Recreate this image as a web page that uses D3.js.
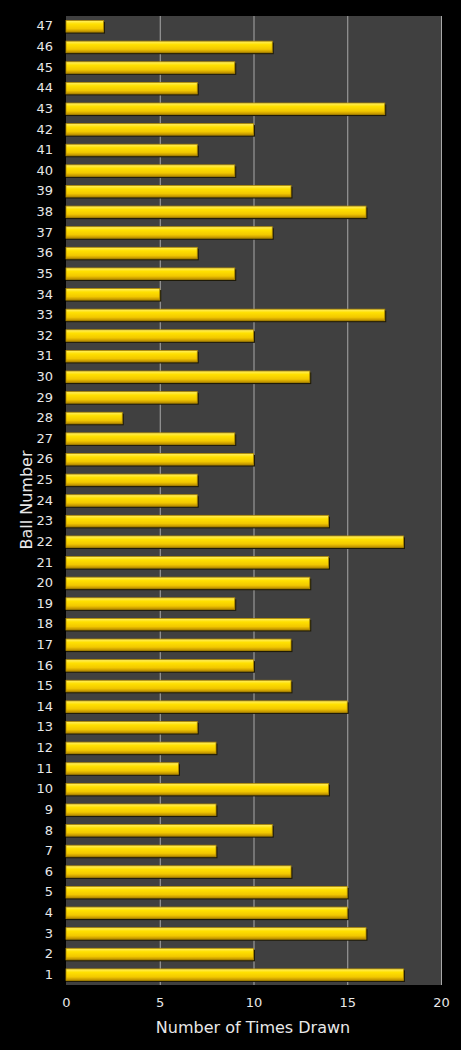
<!DOCTYPE html>
<html>
<head>
<meta charset="utf-8">
<script src="https://cdn.jsdelivr.net/npm/d3@7"></script>
<style>
    body { margin: 0; background: #000; }
    .tick text { fill: #e8e8e8; font-family: "DejaVu Sans", Verdana, sans-serif; font-size: 13px; }
    .axis-label { fill: #e8e8e8; font-family: "DejaVu Sans", Verdana, sans-serif; font-size: 16px; }
</style>
</head>
<body>
<div id="chart"></div>
<script>
const width = 461;
const height = 1050;

const margin = {
    top: 16,
    right: 20,
    bottom: 65,
    left: 66
};

// ball numbers 1..47 and how often each was drawn
const balls = [
    1, 2, 3, 4, 5, 6, 7, 8, 9, 10,
    11, 12, 13, 14, 15, 16, 17, 18, 19, 20,
    21, 22, 23, 24, 25, 26, 27, 28, 29, 30,
    31, 32, 33, 34, 35, 36, 37, 38, 39, 40,
    41, 42, 43, 44, 45, 46, 47
];
const timesDrawn = [
    18, 10, 16, 15, 15, 12, 8, 11, 8, 14,
    6, 8, 7, 15, 12, 10, 12, 13, 9, 13,
    14, 18, 14, 7, 7, 10, 9, 3, 7, 13,
    7, 10, 17, 5, 9, 7, 11, 16, 12, 9,
    7, 10, 17, 7, 9, 11, 2
];
const xTicks = [0, 5, 10, 15, 20];

const data = balls.map((b, i) => ({ ball: b, count: timesDrawn[i] }));

const svg = d3.select("#chart")
    .append("svg")
    .attr("width", width)
    .attr("height", height);

svg.append("rect")
    .attr("width", width)
    .attr("height", height)
    .attr("fill", "#000");

// gradient for the bars
const grad = svg.append("defs")
    .append("linearGradient")
    .attr("id", "barGrad")
    .attr("x1", 0).attr("y1", 0)
    .attr("x2", 0).attr("y2", 1);
grad.append("stop").attr("offset", "0%").attr("stop-color", "#fff06a");
grad.append("stop").attr("offset", "30%").attr("stop-color", "#ffe000");
grad.append("stop").attr("offset", "70%").attr("stop-color", "#f2c800");
grad.append("stop").attr("offset", "100%").attr("stop-color", "#b88a00");

const x = d3.scaleLinear()
    .domain([0, 20])
    .range([margin.left, width - margin.right]);

const y = d3.scaleBand()
    .domain(balls.slice().reverse())
    .range([margin.top, height - margin.bottom])
    .paddingInner(0.44)
    .paddingOuter(0.22);

// PLOT AREA
svg.append("rect")
    .attr("x", margin.left)
    .attr("y", margin.top)
    .attr("width", width - margin.left - margin.right)
    .attr("height", height - margin.top - margin.bottom)
    .attr("fill", "#404040");

// GRID
svg.append("g")
    .attr("transform", `translate(0,${margin.top})`)
    .call(
        d3.axisBottom(x)
            .tickValues(xTicks.slice(1))
            .tickSize(height - margin.top - margin.bottom)
            .tickFormat("")
    )
    .call(g => g.select(".domain").remove())
    .call(g => g.selectAll("line").attr("stroke", "#a8a8a8").attr("stroke-width", 1));

// BARS
svg.selectAll(".shadow")
    .data(data)
    .enter()
    .append("rect")
    .attr("class", "shadow")
    .attr("x", x(0))
    .attr("y", d => y(d.ball) + 1.5)
    .attr("width", d => x(d.count) - x(0) + 1.5)
    .attr("height", y.bandwidth())
    .attr("fill", "#1e1a08");

svg.selectAll(".bar")
    .data(data)
    .enter()
    .append("rect")
    .attr("class", "bar")
    .attr("x", x(0))
    .attr("y", d => y(d.ball))
    .attr("width", d => x(d.count) - x(0))
    .attr("height", y.bandwidth())
    .attr("fill", "url(#barGrad)")
    .attr("stroke", "#b08a00")
    .attr("stroke-width", 0.8);

// X AXIS
svg.append("g")
    .attr("transform", `translate(0,${height - margin.bottom})`)
    .call(d3.axisBottom(x).tickValues(xTicks).tickSize(0).tickPadding(13))
    .call(g => g.select(".domain").remove());

// Y AXIS
svg.append("g")
    .attr("transform", `translate(${margin.left},0)`)
    .call(d3.axisLeft(y).tickSize(0).tickPadding(13))
    .call(g => g.select(".domain").remove());

// X LABEL
svg.append("text")
    .attr("class", "axis-label")
    .attr("x", 253)
    .attr("y", 1033)
    .attr("text-anchor", "middle")
    .text("Number of Times Drawn");

// Y LABEL
svg.append("text")
    .attr("class", "axis-label")
    .attr("x", -500)
    .attr("y", 32)
    .attr("transform", "rotate(-90)")
    .attr("text-anchor", "middle")
    .text("Ball Number");
</script>
</body>
</html>
